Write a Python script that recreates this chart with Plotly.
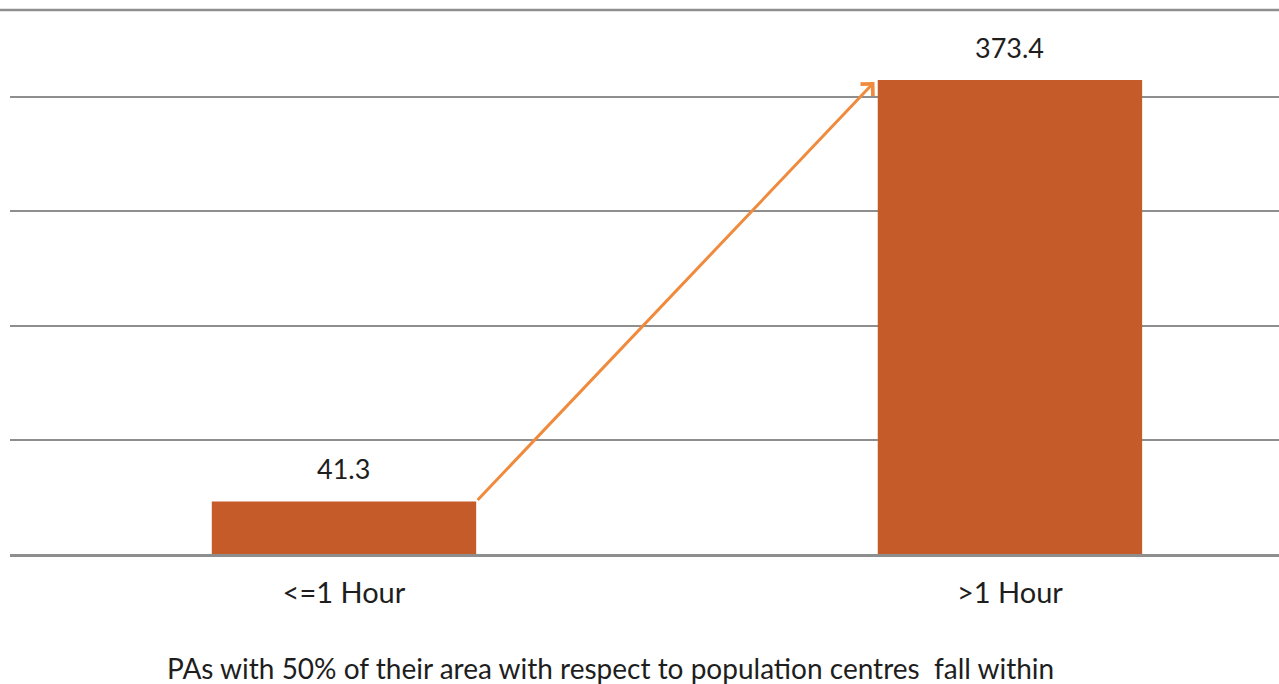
import plotly.graph_objects as go

# Travel-time classes and values
categories = ["<=1 Hour", ">1 Hour"]
values = [41.3, 373.4]
label_texts = ["41.3", "373.4"]
axis_title = "PAs with 50% of their area with respect to population centres  fall within"

BAR_COLOR = "#C45B28"
ARROW_COLOR = "#F08A3C"
GRID_COLOR = "#8E8E8E"
TEXT_COLOR = "#1E1E1E"
FONT = "Lato, 'Open Sans', sans-serif"

x_pos = list(range(len(categories)))
bar_width = 0.397

fig = go.Figure()
fig.add_trace(go.Bar(
    x=x_pos,
    y=values,
    width=bar_width,
    marker=dict(color=BAR_COLOR, line=dict(width=0)),
    hoverinfo="skip",
))

# value labels above each bar
for xi, v, t in zip(x_pos, values, label_texts):
    fig.add_annotation(x=xi, y=v, text=t, showarrow=False,
                       yshift=33, font=dict(size=27, color=TEXT_COLOR, family=FONT))

# growth arrow from the top-right corner of the first bar to the second bar
fig.add_annotation(
    x=x_pos[1] - bar_width / 2 - 0.005, y=values[1] - 1.5,
    ax=x_pos[0] + bar_width / 2, ay=values[0],
    xref="x", yref="y", axref="x", ayref="y",
    showarrow=True, arrowhead=4, arrowsize=1.1, arrowwidth=3,
    arrowcolor=ARROW_COLOR, text="",
)

# axis description under the categories
fig.add_annotation(x=0.473, y=-0.21, xref="paper", yref="paper",
                   xanchor="center", yanchor="middle",
                   text=axis_title, showarrow=False,
                   font=dict(size=28, color=TEXT_COLOR, family=FONT))

# frame line across the top
fig.add_shape(type="line", xref="paper", yref="paper",
              x0=-0.01, x1=1, y0=1, y1=1,
              line=dict(color=GRID_COLOR, width=2.5))

fig.update_layout(
    width=1279, height=684,
    margin=dict(l=10, r=0, t=10, b=130),
    paper_bgcolor="white", plot_bgcolor="white",
    showlegend=False,
    font=dict(family=FONT, color=TEXT_COLOR),
    xaxis=dict(
        range=[-0.5015, 1.404],
        tickmode="array", tickvals=x_pos, ticktext=categories,
        tickfont=dict(size=29, color=TEXT_COLOR, family=FONT),
        ticks="", showgrid=False, zeroline=False,
        showline=True, linecolor=GRID_COLOR, linewidth=2.5,
        ticklabelstandoff=11,
    ),
    yaxis=dict(
        range=[0, 428.6], dtick=90, tick0=0,
        showticklabels=False, ticks="",
        showgrid=True, gridcolor=GRID_COLOR, gridwidth=2,
        zeroline=False, showline=False,
    ),
)

fig.write_html("out.html")
